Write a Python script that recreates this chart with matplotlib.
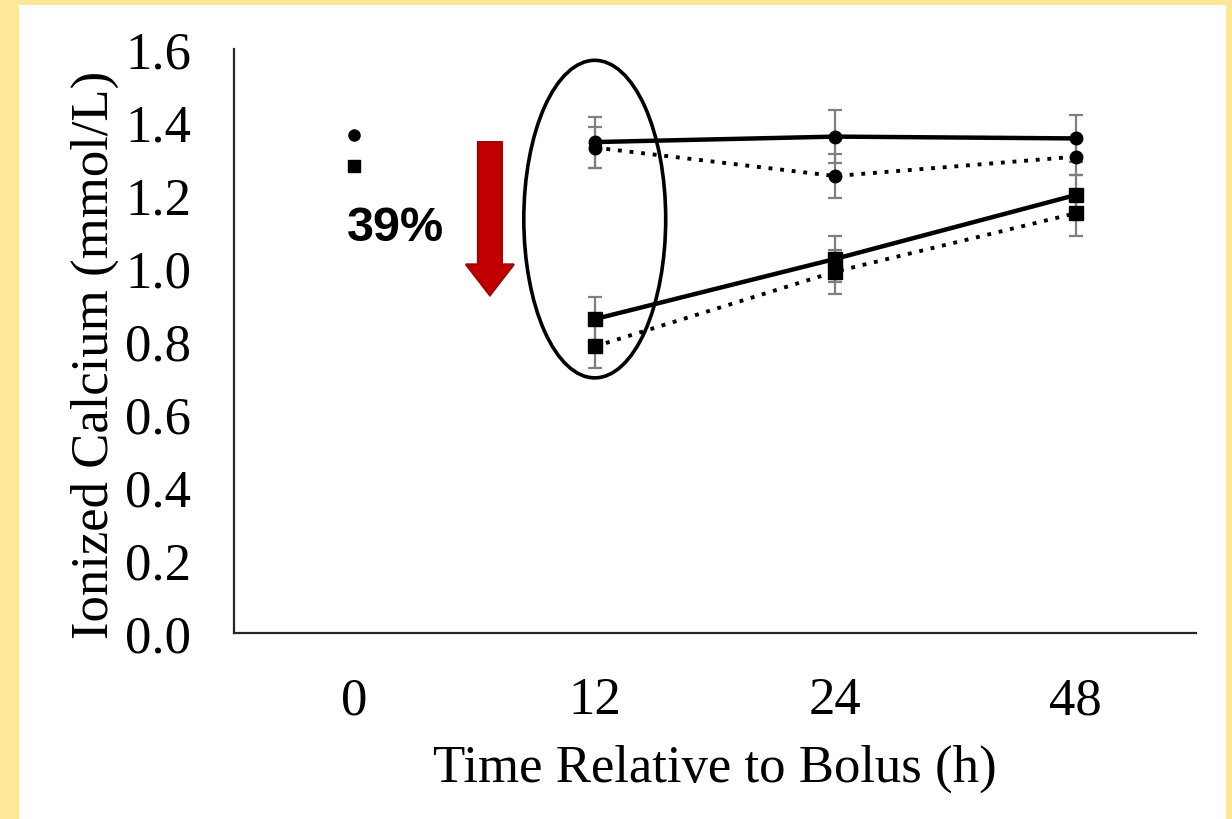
import matplotlib
matplotlib.use("Agg")
import matplotlib.pyplot as plt
from matplotlib.patches import Ellipse, Rectangle, FancyArrow

# data
times = ["0", "12", "24", "48"]
circ_solid = [1.365, 1.345, 1.36, 1.355]
circ_solid_err = [0, 0.07, 0.072, 0.065]
circ_dot = [None, 1.33, 1.252, 1.305]
circ_dot_err = [0, 0.055, 0.06, 0.05]
sq_solid = [1.28, 0.86, 1.025, 1.2]
sq_solid_err = [0, 0.06, 0.062, 0.055]
sq_dot = [None, 0.785, 0.99, 1.15]
sq_dot_err = [0, 0.06, 0.06, 0.062]
drop_label = "39%"

serif = ["Liberation Serif", "DejaVu Serif"]

fig = plt.figure(figsize=(12.32, 8.2), dpi=100, facecolor="#FFE699")
fig.patches.append(Rectangle((19/1232, 0), (1226-19)/1232, 1-6/820,
                             transform=fig.transFigure, facecolor="white",
                             edgecolor="none", zorder=-5))
ax = fig.add_axes([234/1232, 1-634/820, (1196-234)/1232, (634-50)/820])
ax.set_facecolor("none")
ax.set_zorder(2)

x = list(range(len(times)))
xs = x[1:]

def series(vals, errs, marker, ms, ls, lw):
    ax.errorbar(xs, vals[1:], yerr=errs[1:], fmt="none", ecolor="#7f7f7f",
                elinewidth=1.6, capsize=5, capthick=1.6, zorder=2)
    ax.plot(xs, vals[1:], color="black", linestyle=ls, linewidth=lw,
            marker=marker, markersize=ms, zorder=3)

series(circ_solid, circ_solid_err, "o", 9, "-", 3.2)
series(circ_dot, circ_dot_err, "o", 9, (0, (1, 2)), 2.8)
series(sq_solid, sq_solid_err, "s", 9.5, "-", 3.2)
series(sq_dot, sq_dot_err, "s", 9.5, (0, (1, 2)), 2.8)

# baseline points at time 0
ax.plot([0], [circ_solid[0]], "o", color="black", markersize=8, zorder=3)
ax.plot([0], [sq_solid[0]], "s", color="black", markersize=8, zorder=3)

# highlight ellipse around 12 h
ax.add_patch(Ellipse((1.0, 1.134), 0.59, 0.87, fill=False,
                     edgecolor="black", linewidth=2.6, zorder=4))

# red arrow
ax.add_patch(FancyArrow(0.564, 1.345, 0, -0.42, width=0.1, head_width=0.2,
                        head_length=0.085, length_includes_head=True,
                        facecolor="#C00000", edgecolor="#A00000",
                        linewidth=1.5, zorder=4))
ax.text(-0.03, 1.112, drop_label, fontsize=35, fontweight="bold",
        family=["Liberation Sans", "DejaVu Sans"], ha="left", va="center")

ax.set_xlim(-0.5, 3.5)
ax.set_ylim(0, 1.6)
ax.set_xticks(x)
ax.set_xticklabels(times)
ax.set_yticks([i * 0.2 for i in range(9)])
ax.set_yticklabels([f"{i * 0.2:.1f}" for i in range(9)])
ax.tick_params(axis="both", length=0, labelsize=38)
ax.tick_params(axis="y", pad=31)
ax.tick_params(axis="x", pad=31)
for lab in ax.get_xticklabels() + ax.get_yticklabels():
    lab.set_family(serif)

for s in ["top", "right"]:
    ax.spines[s].set_visible(False)
for s in ["left", "bottom"]:
    ax.spines[s].set_linewidth(1.6)
    ax.spines[s].set_color("#262626")

ax.set_xlabel("Time Relative to Bolus (h)", fontsize=38, family=serif, labelpad=14)
ax.set_ylabel("Ionized Calcium (mmol/L)", fontsize=38, family=serif, labelpad=4)
ax.yaxis.label.set_y(0.478)

fig.savefig("out.png", dpi=100, facecolor=fig.get_facecolor())
